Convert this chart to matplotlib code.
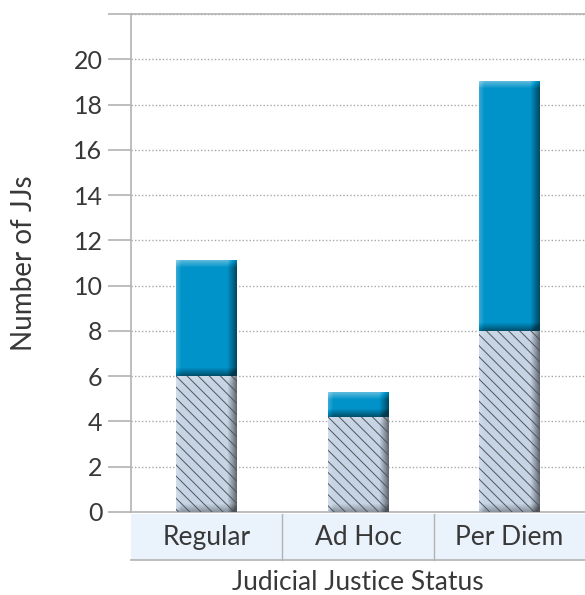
import numpy as np
import matplotlib
matplotlib.use("Agg")
import matplotlib.pyplot as plt
from matplotlib.colors import to_rgb
from matplotlib.patches import Rectangle
from matplotlib.transforms import blended_transform_factory

plt.rcParams['font.family'] = ['Lato', 'DejaVu Sans']
plt.rcParams['hatch.linewidth'] = 0.7

# judicial justices by status
categories = ['Regular', 'Ad Hoc', 'Per Diem']
lower_vals = [6, 4.2, 8]
upper_vals = [5.1, 1.1, 11]
yticks = list(range(0, 21, 2))

blue = '#0093c9'
slate = '#c6d4e4'
bar_w = 0.4


def bevel(ax, x0, x1, y0, y1, color, w_px=60, bw=7, light=0.35, dark=0.45):
    # rough bevel: lighter top/left edges, darker right/bottom edges
    h_px = max(int(round((y1 - y0) * 22.6)), 2)
    rows, cols = np.mgrid[0:h_px, 0:w_px]
    top = np.clip(1 - rows / bw, 0, 1)
    bot = np.clip(1 - (h_px - 1 - rows) / (bw + 1), 0, 1)
    left = np.clip(1 - cols / (bw - 2), 0, 1)
    right = np.clip(1 - (w_px - 1 - cols) / (bw + 2), 0, 1)
    shade = light * top + 0.2 * left - 0.5 * right - dark * bot
    shade = np.clip(shade, -0.6, 0.5)
    base = np.array(to_rgb(color))
    img = np.empty((h_px, w_px, 3))
    for c in range(3):
        up = base[c] + (1 - base[c]) * np.clip(shade, 0, None)
        down = base[c] * (1 + np.clip(shade, None, 0))
        img[..., c] = np.where(shade >= 0, up, down)
    ax.imshow(img, extent=(x0, x1, y0, y1), origin='upper', aspect='auto',
              interpolation='bilinear', zorder=3)


fig = plt.figure(figsize=(5.85, 5.95), dpi=100)
ax = fig.add_axes([0.224, 0.1395, 0.776, 0.837])

x = np.arange(len(categories))
for i in x:
    lo = lower_vals[i]
    hi = lo + upper_vals[i]
    bevel(ax, i - bar_w / 2, i + bar_w / 2, 0, lo, slate, light=0.1, dark=0.3)
    ax.bar(i, lo, bar_w, color='none', edgecolor='#50555c',
           hatch='\\\\\\', linewidth=0, zorder=4)
    bevel(ax, i - bar_w / 2, i + bar_w / 2, lo, hi, blue)

ax.set_xlim(-0.5, 2.5)
ax.set_ylim(0, 22)
ax.set_yticks(yticks + [22])
ax.set_yticklabels([str(t) for t in yticks] + [''])
ax.set_xticks([])
ax.tick_params(axis='y', length=16.5, width=1.2, color='#b3b3b3', pad=4,
               labelsize=18, labelcolor='#383838')
ax.grid(axis='y', linestyle=(0, (1, 1.5)), color='#a8a8a8', linewidth=1)
ax.set_axisbelow(True)
for side in ['left', 'top', 'bottom']:
    ax.spines[side].set_color('#b3b3b3')
    ax.spines[side].set_linewidth(1.2)
ax.spines['right'].set_visible(False)

# category header band under the axis
tr = blended_transform_factory(ax.transData, ax.transAxes)
for i, name in enumerate(categories):
    ax.add_patch(Rectangle((i - 0.5, -0.097), 1, 0.093, transform=tr,
                           facecolor='#eaf2fb', edgecolor='none',
                           clip_on=False))
    ax.text(i, -0.052, name, transform=tr, ha='center', va='center',
            fontsize=19, color='#383838')
for b in [0.5, 1.5]:
    ax.plot([b, b], [-0.004, -0.097], transform=tr, color='#b3b3b3',
            linewidth=1, clip_on=False)
ax.plot([-0.5, 2.5], [-0.097, -0.097], transform=tr, color='#b3b3b3',
        linewidth=1.2, clip_on=False)

ax.set_xlabel('Judicial Justice Status', fontsize=19, color='#383838',
              labelpad=42)
ax.set_ylabel('Number of JJs', fontsize=20, color='#383838', labelpad=26)

fig.savefig('out.png', dpi=100)
